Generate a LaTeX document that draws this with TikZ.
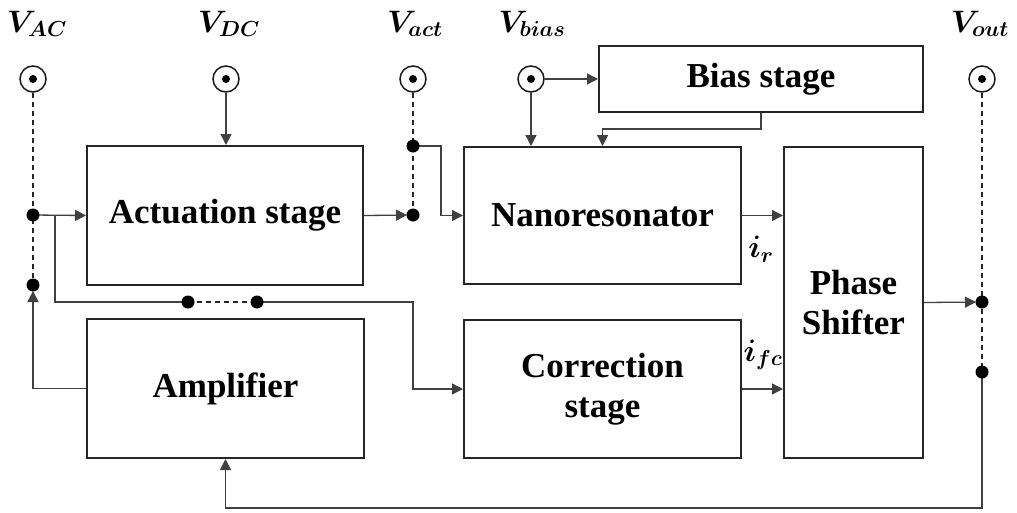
\RequirePackage{fix-cm}
\documentclass[tikz,border=0pt]{standalone}
\usepackage{fontspec}
\setmainfont{Liberation Serif}
\usepackage{bm}
\usetikzlibrary{arrows.meta,calc}
\begin{document}
\begin{tikzpicture}[x=1pt,y=-1pt,
  box/.style={draw=black!85,line width=2pt,fill=white,inner sep=0pt,align=center,
    font=\bfseries\fontsize{35}{40}\selectfont},
  term/.style={circle,draw=black!90,line width=1.5pt,minimum size=26pt,inner sep=0pt},
  lbl/.style={font=\fontsize{31}{34}\selectfont,inner sep=0pt},
  conn/.style={draw=black!75,line width=1.3pt},
  arr/.style={conn,-{Triangle[length=11pt,width=11pt]}},
  dline/.style={draw=black!85,line width=1.5pt,dash pattern=on 5pt off 4pt}]
\useasboundingbox[fill=white] (0,0) rectangle (1017,512);

% boxes
\node[box,minimum width=276pt,minimum height=139pt] (act) at (225,215.5) {Actuation stage};
\node[box,minimum width=277pt,minimum height=139pt] (amp) at (225.5,388.5) {Amplifier};
\node[box,minimum width=277pt,minimum height=137pt] (nano) at (602.5,215.5) {Nanoresonator};
\node[box,minimum width=277pt,minimum height=138pt] (corr) at (602.5,389) {Correction\\stage};
\node[box,minimum width=139pt,minimum height=311pt] (ps) at (853.5,302.5) {Phase\\Shifter};
\node[box,minimum width=324pt,minimum height=66pt] (bias) at (761,79) {Bias stage};

% terminals
\node[term] (tAC) at (33,79) {};
\node[term] (tDC) at (226,79) {};
\node[term] (tact) at (413,79) {};
\node[term] (tbias) at (531,79) {};
\node[term] (tout) at (982,79) {};
\fill[black] (tAC.center) circle (4pt);
\fill[black] (tDC.center) circle (4pt);
\fill[black] (tact.center) circle (4pt);
\fill[black] (tbias.center) circle (4pt);
\fill[black] (tout.center) circle (4pt);

% terminal labels
\node[lbl,anchor=base] (lAC) at (37,32) {$\bm{V_{AC}}$};
\node[lbl,anchor=base] (lDC) at (229,32) {$\bm{V_{DC}}$};
\node[lbl,anchor=base] (lact) at (415,32) {$\bm{V_{act}}$};
\node[lbl,anchor=base] (lbias) at (532,32) {$\bm{V_{bias}}$};
\node[lbl,anchor=base] (lout) at (980,32) {$\bm{V_{out}}$};

% junction coordinates
\coordinate (jAC1) at (33,215);
\coordinate (jAC2) at (33,285);
\coordinate (b1) at (55,215);
\coordinate (d1) at (188,302);
\coordinate (d2) at (257,302);
\coordinate (b2) at (413,302);
\coordinate (jact1) at (413,146);
\coordinate (jact2) at (413,215);
\coordinate (k1) at (441,146);
\coordinate (jout1) at (982,302);
\coordinate (jout2) at (982,372);
\coordinate (f1) at (982,508);

% dashed lines
\draw[dline] (tAC.south) -- (jAC1) -- (jAC2);
\draw[dline] (tact.south) -- (jact1) -- (jact2);
\draw[dline] (tout.south) -- (jout1) -- (jout2);
\draw[dline] (d1) -- (d2);

% connectors
\draw[arr] (jAC1) -- (act.west);
\draw[arr,shorten >=6pt] (amp.west) -| (jAC2);
\draw[conn] (b1) |- (d1);
\draw[arr] (d2) -- (b2) |- (corr.west);
\draw[arr] (tDC) -- (tDC |- act.north);
\draw[arr,shorten >=6pt] (act.east) -- (jact2);
\draw[arr] (jact1) -- (k1) |- (nano.west);
\draw[arr] (tbias) -- (bias.west);
\draw[arr] (tbias) -- (tbias |- nano.north);
\draw[arr] (bias.south) -- ++(0,16) -| (nano.north);
\draw[arr] (nano.east) -- (nano.east -| ps.west);
\draw[arr] (corr.east) -- (corr.east -| ps.west);
\draw[arr,shorten >=6pt] (ps.east) -- (jout1);
\draw[arr] (jout2) -- (f1) -| (amp.south);

% dots
\fill[black] (jAC1) circle (6.5pt);
\fill[black] (jAC2) circle (6.5pt);
\fill[black] (d1) circle (6.5pt);
\fill[black] (d2) circle (6.5pt);
\fill[black] (jact1) circle (6.5pt);
\fill[black] (jact2) circle (6.5pt);
\fill[black] (jout1) circle (6.5pt);
\fill[black] (jout2) circle (6.5pt);

% current labels
\node[lbl] (ir) at (761,249) {$\bm{i_r}$};
\node[lbl] (ifc) at (763,355) {$\bm{i_{fc}}$};
\end{tikzpicture}
\end{document}
